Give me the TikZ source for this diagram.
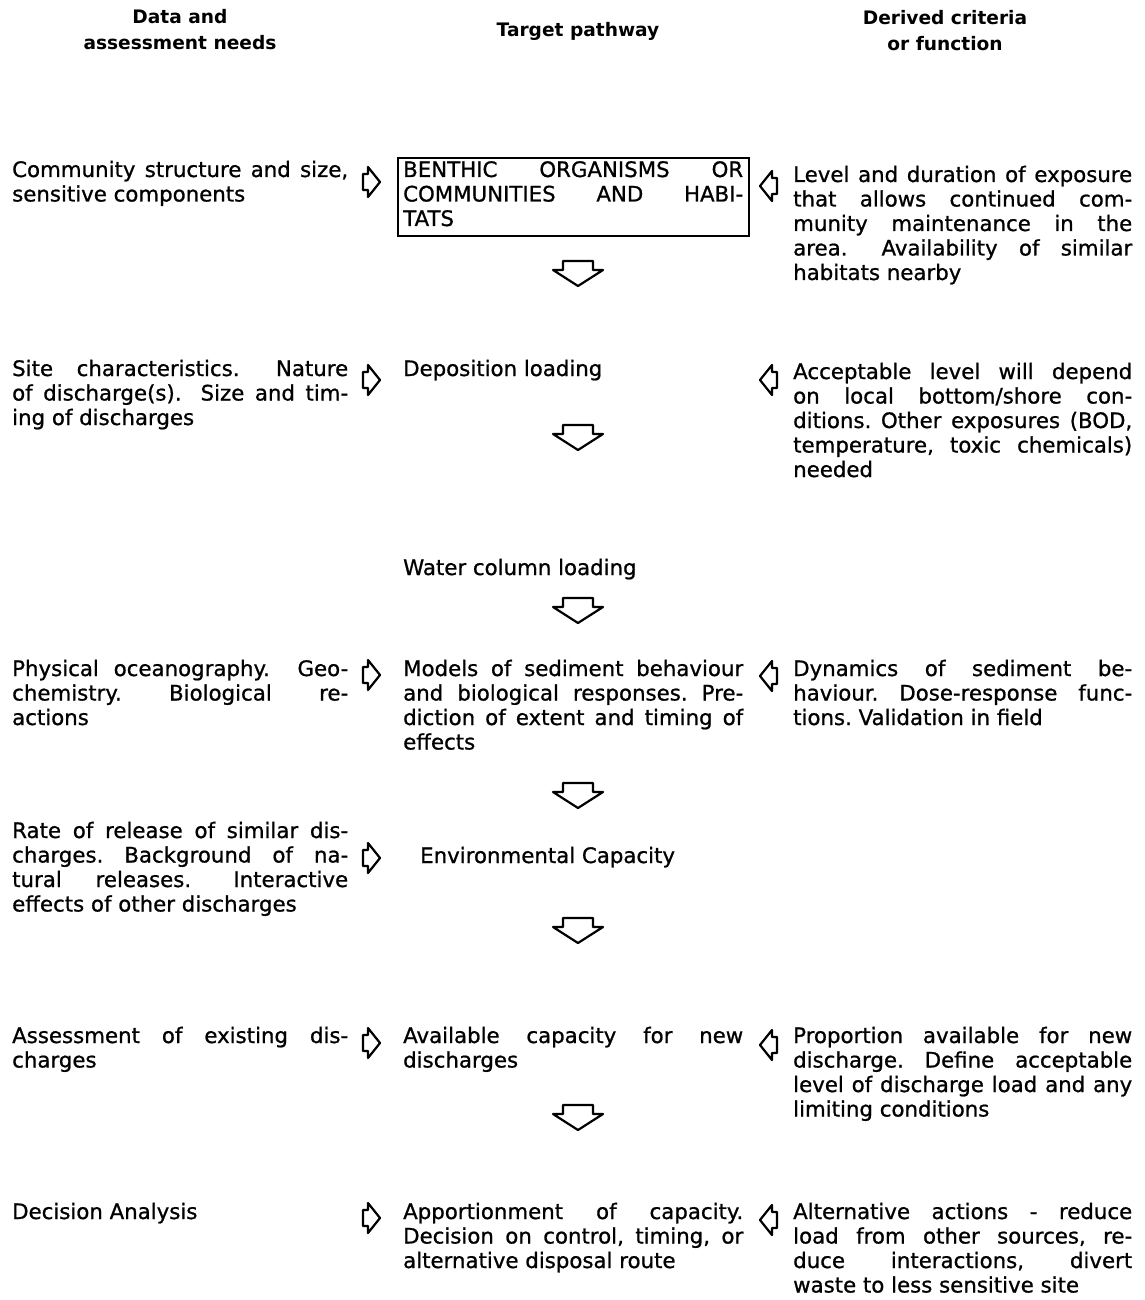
\documentclass[tikz,border=0pt]{standalone}
\usepackage{fontspec}
\setmainfont{DejaVu Sans}
\newfontfamily\bodyfont{DejaVu Sans}[FakeBold=0.9]
\newcommand{\jsetup}{\bodyfont\frenchspacing\parindent=0pt\hyphenpenalty=10000\exhyphenpenalty=10000\tolerance=10000\emergencystretch=0pt\rightskip=0pt\parfillskip=0pt plus 1fil\fontsize{21.3}{24.5}\selectfont}
\newcommand{\colL}[1]{\parbox[t]{336pt}{\jsetup #1}}
\newcommand{\colM}[1]{\parbox[t]{340pt}{\jsetup #1}}
\newcommand{\colR}[1]{\parbox[t]{339pt}{\jsetup #1}}
\tikzset{
  txt/.style={anchor=base west, inner sep=0pt, font=\fontsize{21.3}{24.5}\selectfont},
  head/.style={align=center, inner sep=0pt, font=\fontsize{18.6}{26}\selectfont\bfseries},
  arrline/.style={line width=2.2pt, line join=round},
  rarr/.pic={\draw[arrline] (-8,-8) -- (-3,-8) -- (-3,-15) -- (9,0) -- (-3,15) -- (-3,8) -- (-8,8) -- cycle;},
  larr/.pic={\draw[arrline] (8,-8) -- (3,-8) -- (3,-15) -- (-9,0) -- (3,15) -- (3,8) -- (8,8) -- cycle;},
  darr/.pic={\draw[arrline] (-15,0) -- (15,0) -- (15,9) -- (25,9) -- (0,25) -- (-25,9) -- (-15,9) -- cycle;}
}
\begin{document}
\begin{tikzpicture}[x=1pt,y=-1pt]
\fill[white] (0,0) rectangle (1144,1300);
\useasboundingbox (0,0) rectangle (1144,1300);

% headers
\node[head] (h1) at (180,30) {Data and\\assessment needs};
\node[head] (h2) at (578,31) {Target pathway};
\node[head] (h3) at (945,31) {Derived criteria\\or function};

% row 1
\node[txt] (l1) at (12,177) {\colL{Community structure and size,\linebreak sensitive components}};
\node[draw, line width=2pt, minimum width=351pt, minimum height=78pt, anchor=north west, inner sep=0pt] (box) at (397,157) {};
\node[txt] (m1) at (403,177) {\colM{BENTHIC ORGANISMS OR\linebreak COMMUNITIES AND HABI-\linebreak TATS}};
\node[txt] (r1) at (793,182) {\colR{Level and duration of exposure\linebreak that allows continued com-\linebreak munity maintenance in the\linebreak area.\hspace{0.6em} Availability of similar\linebreak habitats nearby}};
\pic (la1) at (371,182) {rarr};
\pic (ra1) at (769,186) {larr};
\pic (d1) at (578,261) {darr};

% row 2
\node[txt] (l2) at (12,376) {\colL{Site characteristics.\hspace{0.6em} Nature\linebreak of discharge(s).\hspace{0.4em} Size and tim-\linebreak ing of discharges}};
\node[txt] (m2) at (403,376) {\colM{Deposition loading}};
\node[txt] (r2) at (793,379) {\colR{Acceptable level will depend\linebreak on local bottom/shore con-\linebreak ditions. Other exposures (BOD,\linebreak temperature, toxic chemicals)\linebreak needed}};
\pic (la2) at (371,380) {rarr};
\pic (ra2) at (769,380) {larr};
\pic (d2) at (578,425) {darr};

% water column
\node[txt] (m3) at (403,575) {\colM{Water column loading}};
\pic (d3) at (578,598) {darr};

% row 3
\node[txt] (l4) at (12,676) {\colL{Physical oceanography.\hspace{0.6em} Geo-\linebreak chemistry. Biological re-\linebreak actions}};
\node[txt] (m4) at (403,676) {\colM{Models of sediment behaviour\linebreak and biological responses. Pre-\linebreak diction of extent and timing of\linebreak effects}};
\node[txt] (r4) at (793,676) {\colR{Dynamics of sediment be-\linebreak haviour. Dose-response func-\linebreak tions. Validation in field}};
\pic (la4) at (371,675) {rarr};
\pic (ra4) at (769,676) {larr};
\pic (d4) at (578,783) {darr};

% row 4
\node[txt] (l5) at (12,838) {\colL{Rate of release of similar dis-\linebreak charges. Background of na-\linebreak tural releases.\hspace{0.4em} Interactive\linebreak effects of other discharges}};
\node[txt] (m5) at (420,863) {\colM{Environmental Capacity}};
\pic (la5) at (371,858) {rarr};
\pic (d5) at (578,918) {darr};

% row 5
\node[txt] (l6) at (12,1043) {\colL{Assessment of existing dis-\linebreak charges}};
\node[txt] (m6) at (403,1043) {\colM{Available capacity for new\linebreak discharges}};
\node[txt] (r6) at (793,1043) {\colR{Proportion available for new\linebreak discharge. Define acceptable\linebreak level of discharge load and any\linebreak limiting conditions}};
\pic (la6) at (371,1043) {rarr};
\pic (ra6) at (769,1045) {larr};
\pic (d6) at (578,1105) {darr};

% row 6
\node[txt] (l7) at (12,1219) {\colL{Decision Analysis}};
\node[txt] (m7) at (403,1219) {\colM{Apportionment of capacity.\linebreak Decision on control, timing, or\linebreak alternative disposal route}};
\node[txt] (r7) at (793,1219) {\colR{Alternative actions - reduce\linebreak load from other sources, re-\linebreak duce interactions, divert\linebreak waste to less sensitive site}};
\pic (la7) at (371,1218) {rarr};
\pic (ra7) at (769,1220) {larr};
\end{tikzpicture}
\end{document}
